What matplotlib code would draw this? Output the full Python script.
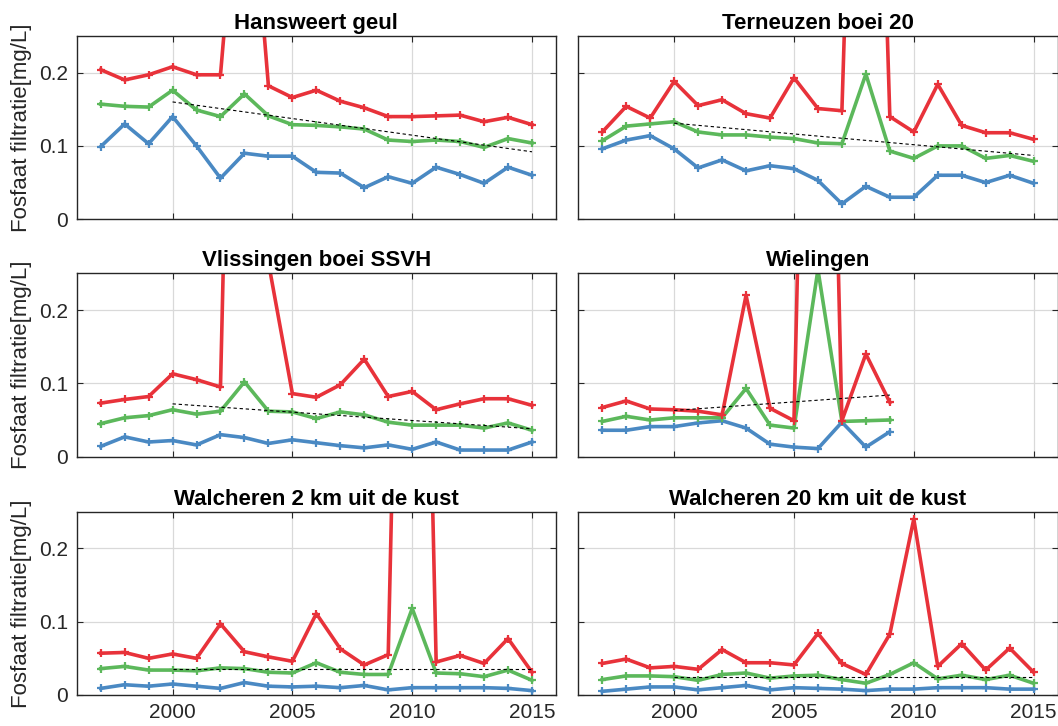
import numpy as np
import matplotlib
matplotlib.use("Agg")
import matplotlib.pyplot as plt

plt.rcParams['font.family'] = ['Liberation Sans', 'DejaVu Sans']

jaren = [1997, 1998, 1999, 2000, 2001, 2002, 2003, 2004, 2005, 2006,
         2007, 2008, 2009, 2010, 2011, 2012, 2013, 2014, 2015]
jaren_wielingen = jaren[:13]

titels = ['Hansweert geul', 'Terneuzen boei 20', 'Vlissingen boei SSVH',
          'Wielingen', 'Walcheren 2 km uit de kust', 'Walcheren 20 km uit de kust']

# Hansweert geul
hans_p90 = [0.204, 0.190, 0.197, 0.208, 0.197, 0.197, 0.58, 0.182, 0.166, 0.176,
            0.161, 0.152, 0.140, 0.140, 0.141, 0.142, 0.133, 0.139, 0.129]
hans_med = [0.157, 0.154, 0.153, 0.176, 0.149, 0.140, 0.171, 0.141, 0.129, 0.128,
            0.126, 0.123, 0.108, 0.106, 0.108, 0.106, 0.098, 0.110, 0.104]
hans_p10 = [0.099, 0.130, 0.103, 0.140, 0.100, 0.056, 0.090, 0.086, 0.086, 0.064,
            0.063, 0.043, 0.058, 0.049, 0.071, 0.061, 0.049, 0.071, 0.060]
hans_trend = [0.160, 0.092]

# Terneuzen boei 20
tern_p90 = [0.119, 0.154, 0.138, 0.188, 0.155, 0.163, 0.144, 0.138, 0.193, 0.151,
            0.148, 1.2, 0.140, 0.119, 0.184, 0.128, 0.118, 0.118, 0.109]
tern_med = [0.107, 0.127, 0.130, 0.133, 0.119, 0.115, 0.115, 0.112, 0.110, 0.104,
            0.103, 0.198, 0.093, 0.083, 0.100, 0.100, 0.083, 0.087, 0.079]
tern_p10 = [0.096, 0.108, 0.114, 0.096, 0.070, 0.081, 0.066, 0.073, 0.069, 0.053,
            0.021, 0.045, 0.030, 0.030, 0.060, 0.060, 0.050, 0.060, 0.049]
tern_trend = [0.131, 0.087]

# Vlissingen boei SSVH
vlis_p90 = [0.073, 0.078, 0.082, 0.113, 0.105, 0.095, 1.5, 0.265, 0.086, 0.081,
            0.098, 0.133, 0.082, 0.089, 0.064, 0.072, 0.079, 0.079, 0.070]
vlis_med = [0.045, 0.053, 0.056, 0.064, 0.058, 0.062, 0.102, 0.062, 0.061, 0.052,
            0.061, 0.057, 0.047, 0.043, 0.043, 0.043, 0.039, 0.046, 0.036]
vlis_p10 = [0.014, 0.027, 0.020, 0.022, 0.016, 0.030, 0.026, 0.018, 0.023, 0.019,
            0.015, 0.012, 0.016, 0.010, 0.020, 0.009, 0.009, 0.009, 0.020]
vlis_trend = [0.072, 0.038]

# Wielingen (t/m 2009)
wiel_p90 = [0.067, 0.076, 0.065, 0.064, 0.062, 0.057, 0.220, 0.066, 0.049, 1.45,
            0.049, 0.140, 0.074]
wiel_med = [0.048, 0.055, 0.050, 0.053, 0.053, 0.053, 0.093, 0.043, 0.039, 0.255,
            0.048, 0.049, 0.050]
wiel_p10 = [0.036, 0.036, 0.041, 0.041, 0.046, 0.049, 0.039, 0.017, 0.013, 0.011,
            0.047, 0.013, 0.034]
wiel_trend = [0.063, 0.084]

# Walcheren 2 km uit de kust
wal2_p90 = [0.057, 0.058, 0.050, 0.056, 0.050, 0.097, 0.059, 0.052, 0.046, 0.111,
            0.063, 0.041, 0.055, 1.5, 0.045, 0.054, 0.043, 0.077, 0.031]
wal2_med = [0.036, 0.039, 0.034, 0.034, 0.033, 0.037, 0.036, 0.031, 0.030, 0.044,
            0.031, 0.028, 0.028, 0.118, 0.030, 0.029, 0.025, 0.034, 0.020]
wal2_p10 = [0.009, 0.014, 0.012, 0.015, 0.012, 0.009, 0.017, 0.012, 0.011, 0.012,
            0.010, 0.013, 0.007, 0.010, 0.010, 0.010, 0.010, 0.009, 0.006]
wal2_trend = [0.036, 0.036]

# Walcheren 20 km uit de kust
wal20_p90 = [0.043, 0.049, 0.037, 0.039, 0.035, 0.062, 0.044, 0.044, 0.041, 0.084,
             0.043, 0.028, 0.083, 0.240, 0.039, 0.070, 0.034, 0.064, 0.031]
wal20_med = [0.021, 0.026, 0.026, 0.025, 0.020, 0.028, 0.030, 0.023, 0.026, 0.027,
             0.021, 0.016, 0.028, 0.044, 0.022, 0.027, 0.021, 0.027, 0.016]
wal20_p10 = [0.005, 0.008, 0.011, 0.011, 0.007, 0.010, 0.013, 0.007, 0.010, 0.009,
             0.008, 0.006, 0.008, 0.008, 0.010, 0.010, 0.010, 0.008, 0.008]
wal20_trend = [0.024, 0.024]

panelen = [
    (jaren, hans_p10, hans_med, hans_p90, [2000, 2015], hans_trend),
    (jaren, tern_p10, tern_med, tern_p90, [2000, 2015], tern_trend),
    (jaren, vlis_p10, vlis_med, vlis_p90, [2000, 2015], vlis_trend),
    (jaren_wielingen, wiel_p10, wiel_med, wiel_p90, [2000, 2009], wiel_trend),
    (jaren, wal2_p10, wal2_med, wal2_p90, [2000, 2015], wal2_trend),
    (jaren, wal20_p10, wal20_med, wal20_p90, [2000, 2015], wal20_trend),
]

kleur_p10 = '#4A89C3'
kleur_med = '#5CB85B'
kleur_p90 = '#E8323A'
tekstkleur = '#262626'

fig = plt.figure(figsize=(10.58, 7.26), dpi=100)

# posities van de assen (links, onder, breedte, hoogte) in figuurfracties
links = [0.0725, 0.5466]
breedte = [0.4530, 0.4530]
onder = [0.698, 0.371, 0.0427]
hoogte = 0.2525

for i, (x, p10, med, p90, tj, tv) in enumerate(panelen):
    rij, kol = divmod(i, 2)
    ax = fig.add_axes([links[kol], onder[rij], breedte[kol], hoogte])

    for reeks, kleur in [(p10, kleur_p10), (med, kleur_med), (p90, kleur_p90)]:
        ax.plot(x, reeks, color=kleur, lw=2.6, marker='+', ms=5.5, mew=1.6)
    ax.plot(tj, tv, color='black', lw=0.8, ls=(0, (3, 2.5)))

    ax.set_xlim(1996, 2016)
    ax.set_ylim(0, 0.25)
    ax.set_xticks([2000, 2005, 2010, 2015])
    ax.set_yticks([0, 0.1, 0.2])
    ax.set_yticklabels(['0', '0.1', '0.2'])
    ax.grid(True, color='#d9d9d9', lw=0.9)
    ax.set_axisbelow(True)
    ax.tick_params(direction='in', top=True, right=True, length=4, width=0.8,
                   labelsize=15, colors=tekstkleur, pad=6)
    for sp in ax.spines.values():
        sp.set_color(tekstkleur)
        sp.set_linewidth(1.0)

    if rij < 2:
        ax.tick_params(labelbottom=False)
    if kol == 1:
        ax.tick_params(labelleft=False)
    else:
        ax.set_ylabel('Fosfaat filtratie[mg/L]', fontsize=16, color=tekstkleur, labelpad=5)

    ax.set_title(titels[i], fontsize=16, fontweight='bold', pad=5)

fig.savefig('out.png', dpi=100)
